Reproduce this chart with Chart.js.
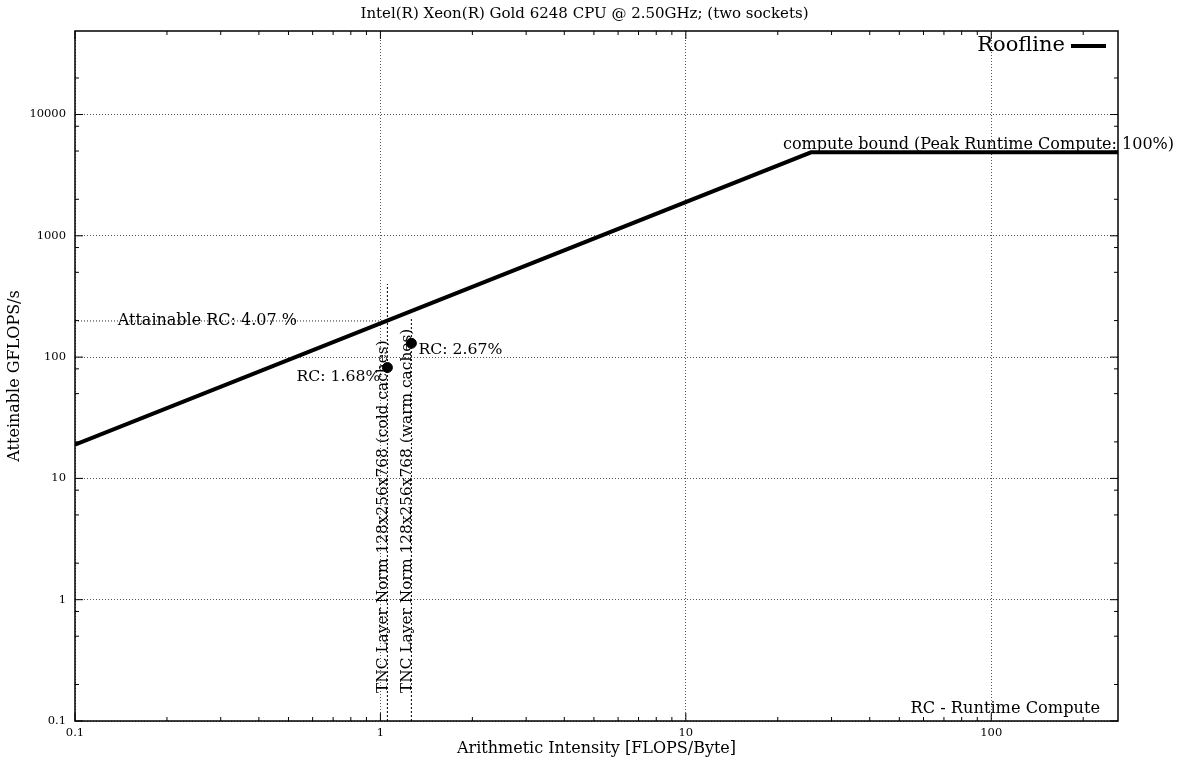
<!DOCTYPE html>
<html>
<head>
<meta charset="utf-8">
<title>Roofline</title>
<script src="https://cdn.jsdelivr.net/npm/chart.js@4.4.1/dist/chart.umd.min.js"></script>
<style>
  body { margin: 0; background: #fff; }
  #wrap { width: 1181px; height: 762px; }
</style>
</head>
<body>
<div id="wrap"><canvas id="roofline-chart" width="1181" height="762"></canvas></div>
<script>
// Roofline: memory bound slope, then flat compute roof
const rooflineX = [0.1, 25.7, 260];
const rooflineY = [19, 4880, 4880];

// Measured kernels
const kernelNames = [
  "TNC Layer Norm 128x256x768 (cold caches)",
  "TNC Layer Norm 128x256x768 (warm caches)"
];
const kernelX = [1.054, 1.263];
const kernelY = [82, 130];
const kernelRC = ["RC: 1.68%", "RC: 2.67%"];
const kernelLineTop = [400, 214];

// Attainable level for the first kernel
const attainableY = 198.6;
const attainableLabel = "Attainable RC: 4.07 %";
const attainableLabelX = 0.138;

const computeBoundLabel = "compute bound (Peak Runtime Compute: 100%)";
const computeBoundLabelX = 20.8;

// Axes
const xRange = [0.1, 260];
const yRange = [0.1, 48800];
const xTickValues = [0.1, 1, 10, 100];
const yTickValues = [0.1, 1, 10, 100, 1000, 10000];
const xMinorMults = [2, 3, 4, 5, 6, 7, 8, 9];
const yMinorMults = [2, 5, 8];

const chartTitle = "Intel(R) Xeon(R) Gold 6248 CPU @ 2.50GHz; (two sockets)";
const xTitle = "Arithmetic Intensity [FLOPS/Byte]";
const yTitle = "Atteinable GFLOPS/s";

const serif = "'DejaVu Serif', serif";
Chart.defaults.font.family = serif;
Chart.defaults.color = "#000";

function minorValues(range, mults) {
  const out = [];
  const e0 = Math.floor(Math.log10(range[0]));
  const e1 = Math.ceil(Math.log10(range[1]));
  for (let e = e0; e <= e1; e++) {
    mults.forEach(m => out.push(m * Math.pow(10, e)));
  }
  return out;
}

// gnuplot-like extras: frame, inward ticks, labels, legend
const decorations = {
  id: "decorations",
  afterDatasetsDraw(chart) {
    const { ctx, chartArea: a, scales: { x, y } } = chart;
    ctx.save();

    // frame
    ctx.strokeStyle = "#000";
    ctx.lineWidth = 1.5;
    ctx.strokeRect(a.left, a.top, a.right - a.left, a.bottom - a.top);

    // inward ticks on all four sides
    ctx.lineWidth = 1;
    ctx.beginPath();
    const xTick = (v, len) => {
      if (v < xRange[0] || v > xRange[1]) return;
      const p = x.getPixelForValue(v);
      ctx.moveTo(p, a.bottom); ctx.lineTo(p, a.bottom - len);
      ctx.moveTo(p, a.top); ctx.lineTo(p, a.top + len);
    };
    const yTick = (v, len) => {
      if (v < yRange[0] || v > yRange[1]) return;
      const p = y.getPixelForValue(v);
      ctx.moveTo(a.left, p); ctx.lineTo(a.left + len, p);
      ctx.moveTo(a.right, p); ctx.lineTo(a.right - len, p);
    };
    xTickValues.forEach(v => xTick(v, 8));
    yTickValues.forEach(v => yTick(v, 8));
    minorValues(xRange, xMinorMults).forEach(v => xTick(v, 4));
    minorValues(yRange, yMinorMults).forEach(v => yTick(v, 4));
    ctx.stroke();

    ctx.fillStyle = "#000";

    // title
    ctx.font = "15px " + serif;
    ctx.textAlign = "center";
    ctx.textBaseline = "middle";
    ctx.fillText(chartTitle, (a.left + a.right) / 2 - 12, 14);

    // attainable label sits on its dotted line
    ctx.font = "16px " + serif;
    ctx.textAlign = "left";
    ctx.textBaseline = "alphabetic";
    ctx.fillText(attainableLabel, x.getPixelForValue(attainableLabelX), y.getPixelForValue(attainableY) + 4);

    // compute bound label above the roof
    ctx.fillText(computeBoundLabel, x.getPixelForValue(computeBoundLabelX), y.getPixelForValue(rooflineY[1]) - 3);

    // RC labels beside the points
    ctx.font = "15.7px " + serif;
    ctx.textBaseline = "middle";
    ctx.textAlign = "right";
    ctx.fillText(kernelRC[0], x.getPixelForValue(kernelX[0]) - 7, y.getPixelForValue(kernelY[0]) + 9);
    ctx.textAlign = "left";
    ctx.fillText(kernelRC[1], x.getPixelForValue(kernelX[1]) + 7, y.getPixelForValue(kernelY[1]) + 7);

    // footnote
    ctx.font = "16.2px " + serif;
    ctx.textAlign = "right";
    ctx.fillText("RC - Runtime Compute", a.right - 18, a.bottom - 12);

    // rotated kernel names along their vertical lines
    ctx.font = "15.4px " + serif;
    ctx.textAlign = "left";
    kernelNames.forEach((name, i) => {
      ctx.save();
      ctx.translate(x.getPixelForValue(kernelX[i]) - 4, a.bottom - 28);
      ctx.rotate(-Math.PI / 2);
      ctx.fillText(name, 0, 0);
      ctx.restore();
    });

    // legend: text with line sample on the right
    ctx.font = "21px " + serif;
    ctx.textAlign = "right";
    ctx.fillText("Roofline", a.right - 53, a.top + 15);
    ctx.lineWidth = 4;
    ctx.beginPath();
    ctx.moveTo(a.right - 47, a.top + 15);
    ctx.lineTo(a.right - 12, a.top + 15);
    ctx.stroke();

    ctx.restore();
  }
};

const ctx = document.getElementById("roofline-chart").getContext("2d");

const datasets = [
  {
    label: "kernels",
    data: kernelX.map((v, i) => ({ x: v, y: kernelY[i] })),
    showLine: false,
    pointRadius: 5,
    pointBackgroundColor: "#000",
    pointBorderColor: "#000"
  },
  {
    label: "Roofline",
    data: rooflineX.map((v, i) => ({ x: v, y: rooflineY[i] })),
    borderColor: "#000",
    borderWidth: 4,
    pointRadius: 0
  },
  {
    label: "attainable",
    data: [{ x: xRange[0], y: attainableY }, { x: kernelX[0], y: attainableY }],
    borderColor: "#222",
    borderWidth: 1,
    borderDash: [1, 2],
    pointRadius: 0
  }
];

kernelX.forEach((v, i) => {
  datasets.push({
    label: kernelNames[i],
    data: [{ x: v, y: yRange[0] }, { x: v, y: kernelLineTop[i] }],
    borderColor: "#000",
    borderWidth: 1,
    borderDash: [2, 2],
    pointRadius: 0
  });
});

const chart = new Chart(ctx, {
  type: "line",
  data: { datasets: datasets },
  options: {
    responsive: false,
    animation: false,
    devicePixelRatio: 1,
    layout: { padding: { top: 31, right: 63, left: 0, bottom: 0 } },
    plugins: {
      legend: { display: false },
      tooltip: { enabled: false }
    },
    scales: {
      x: {
        type: "logarithmic",
        min: xRange[0],
        max: xRange[1],
        afterBuildTicks: s => { s.ticks = xTickValues.map(v => ({ value: v })); },
        afterFit: s => { s.height = 41; },
        grid: { color: "#555", drawTicks: false },
        border: { display: false, dash: [1, 2] },
        ticks: {
          autoSkip: false,
          maxRotation: 0,
          padding: 5,
          font: { size: 11.5 },
          callback: v => String(v)
        },
        title: {
          display: true,
          text: xTitle,
          font: { size: 16 },
          padding: { top: 0, bottom: 4 }
        }
      },
      y: {
        type: "logarithmic",
        min: yRange[0],
        max: yRange[1],
        afterBuildTicks: s => { s.ticks = yTickValues.map(v => ({ value: v })); },
        afterFit: s => { s.width = 75; },
        grid: { color: "#555", drawTicks: false },
        border: { display: false, dash: [1, 2] },
        ticks: {
          autoSkip: false,
          padding: 9,
          font: { size: 11.5 },
          callback: v => String(v)
        },
        title: {
          display: true,
          text: yTitle,
          font: { size: 16 },
          padding: { top: 5, bottom: 0 }
        }
      }
    }
  },
  plugins: [decorations]
});
</script>
</body>
</html>
